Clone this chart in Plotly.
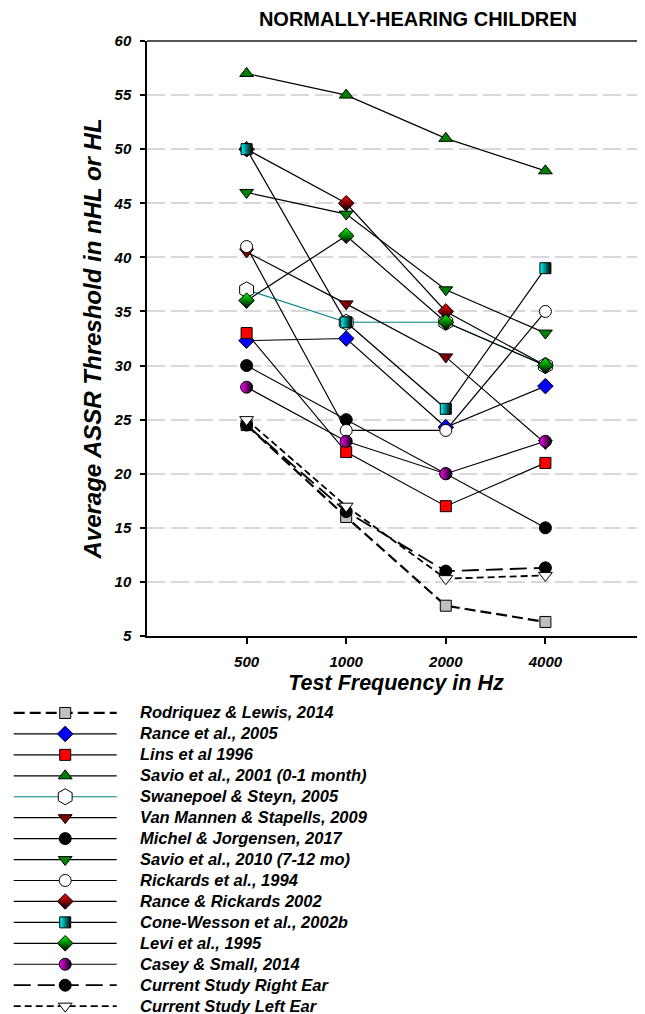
import plotly.graph_objects as go

freqs = [500, 1000, 2000, 4000]

rodriquez_lewis = [24.5, 16.0, 7.8, 6.3]
rance_2005 = [32.3, 32.5, 24.3, 28.1]
lins_1996 = [33.0, 22.0, 17.0, 21.0]
savio_2001 = [57.0, 55.0, 51.0, 48.0]
swanepoel_steyn = [37.0, 34.0, 34.0, 30.0]
van_mannen = [40.5, 35.7, 30.8, 22.8]
michel_jorgensen = [30.0, 25.0, 20.0, 15.0]
savio_2010 = [46.0, 44.0, 37.0, 33.0]
rickards_1994 = [41.0, 24.0, 24.0, 35.0]
rance_rickards = [50.0, 45.0, 35.0, 30.0]
cone_wesson = [50.0, 34.0, 26.0, 39.0]
levi_1995 = [36.0, 42.0, 34.0, 30.0]
casey_small = [28.0, 23.0, 20.0, 23.0]
current_right = [24.5, 16.5, 11.0, 11.3]
current_left = [25.0, 17.0, 10.3, 10.6]

tick_vals = [500, 1000, 2000, 4000]
tick_text = ["500", "1000", "2000", "4000"]

FONT = "Arial, Liberation Sans, sans-serif"
PAD = "\u00a0\u00a0\u00a0\u00a0"

series = [
    ("Rodriquez & Lewis, 2014", rodriquez_lewis, dict(symbol="square", color="#c0c0c0", size=11), dict(color="black", width=2.2, dash="11px,5px"), None),
    ("Rance et al., 2005", rance_2005, dict(symbol="diamond", color="#0000ff", size=12), dict(color="black", width=1.2), None),
    ("Lins et al 1996", lins_1996, dict(symbol="square", color="#ff0000", size=11), dict(color="black", width=1.2), None),
    ("Savio et al., 2001 (0-1 month)", savio_2001, dict(symbol="triangle-up", color="#008000", size=12), dict(color="black", width=1.2), None),
    ("Swanepoel & Steyn, 2005", swanepoel_steyn, dict(symbol="hexagon", color="white", size=16), dict(color="#008080", width=1.2), None),
    ("Van Mannen & Stapells, 2009", van_mannen, dict(symbol="triangle-down", color="#800000", size=12), dict(color="black", width=1.2), None),
    ("Michel & Jorgensen, 2017", michel_jorgensen, dict(symbol="circle", color="black", size=12), dict(color="black", width=1.2), None),
    ("Savio et al., 2010 (7-12 mo)", savio_2010, dict(symbol="triangle-down", color="#008000", size=12), dict(color="black", width=1.2), None),
    ("Rickards et al., 1994", rickards_1994, dict(symbol="circle", color="white", size=12), dict(color="black", width=1.2), None),
    ("Rance & Rickards 2002", rance_rickards, dict(symbol="diamond", color="#ff0000", size=12), dict(color="black", width=1.2), ("vertical", "black")),
    ("Cone-Wesson et al., 2002b", cone_wesson, dict(symbol="square", color="#00ffff", size=11), dict(color="black", width=1.2), ("horizontal", "black")),
    ("Levi et al., 1995", levi_1995, dict(symbol="diamond", color="#00ff00", size=12), dict(color="black", width=1.2), ("vertical", "black")),
    ("Casey & Small, 2014", casey_small, dict(symbol="circle", color="#ff00ff", size=12), dict(color="black", width=1.2), ("horizontal", "black")),
    ("Current Study Right Ear", current_right, dict(symbol="circle", color="black", size=12), dict(color="black", width=1.8, dash="17px,7px"), None),
    ("Current Study Left Ear", current_left, dict(symbol="triangle-down", color="white", size=12), dict(color="black", width=1.8, dash="7px,4px"), None),
]

fig = go.Figure()
for name, vals, mk, ln, grad in series:
    marker = dict(mk)
    marker["line"] = dict(color="black", width=1)
    if grad:
        marker["gradient"] = dict(type=grad[0], color=grad[1])
    fig.add_trace(go.Scatter(
        x=freqs, y=vals,
        name='<span style="font-size:16.5px">' + PAD + name + '</span>',
        mode="lines+markers",
        marker=marker, line=ln,
    ))

# page body has an 8px default margin; figure is sized to fill the rest of the window
fig.update_layout(
    width=637, height=1006,
    margin=dict(l=139, r=0, t=33, b=378, autoexpand=False),
    paper_bgcolor="white", plot_bgcolor="white",
    font=dict(family=FONT, color="black"),
    title=dict(text="<b>NORMALLY-HEARING CHILDREN</b>", x=0.6436, xanchor="center",
               y=0.98907, yanchor="middle", font=dict(size=20, family=FONT, color="black")),
    showlegend=True,
    legend=dict(
        xref="paper", yref="paper", x=-0.2777, y=-0.10336, xanchor="left", yanchor="top",
        font=dict(size=13.8, family=FONT, weight="bold", style="italic", color="black"),
        itemwidth=103, bgcolor="rgba(0,0,0,0)", traceorder="normal",
    ),
)

fig.update_xaxes(
    type="log", range=[2.39794, 3.90309],
    tickvals=tick_vals, ticktext=tick_text,
    ticks="outside", ticklen=6, tickwidth=1.5, tickcolor="black",
    showline=True, linecolor="black", linewidth=1.5, mirror=False,
    showgrid=False, zeroline=False,
    tickfont=dict(size=15, family=FONT, weight="bold", style="italic"),
    ticklabelstandoff=5,
    title=dict(text="Test Frequency in Hz", standoff=6,
               font=dict(size=21.5, family=FONT, weight="bold", style="italic")),
)
fig.update_yaxes(
    range=[5, 60], tick0=5, dtick=5,
    ticks="outside", ticklen=5, tickwidth=1.5, tickcolor="black",
    showline=True, linecolor="black", linewidth=1.5,
    showgrid=True, gridcolor="#d8d8d8", gridwidth=1.5, griddash="18px,6px",
    zeroline=False,
    tickfont=dict(size=15, family=FONT, weight="bold", style="italic"),
    ticklabelstandoff=6,
    title=dict(text="Average ASSR Threshold in nHL or HL", standoff=5,
               font=dict(size=24, family=FONT, weight="bold", style="italic")),
)

# top border line
fig.add_shape(type="line", xref="paper", yref="paper", x0=0, x1=1, y0=1, y1=1,
              line=dict(color="#555555", width=2))

fig.write_html("out.html")
